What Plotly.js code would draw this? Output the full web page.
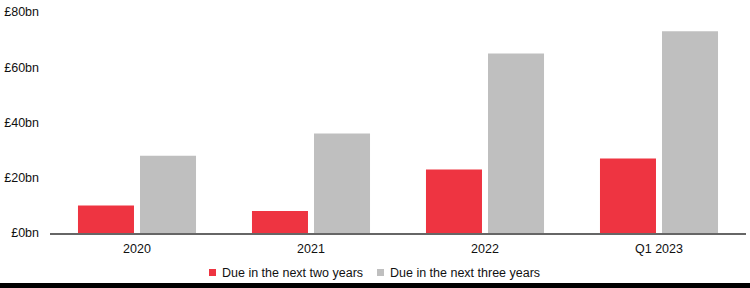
<!DOCTYPE html>
<html>
<head>
<meta charset="utf-8">
<script src="https://cdn.plot.ly/plotly-3.0.1.min.js"></script>
<style>
html,body{margin:0;padding:0;background:#fff;}
#wrap{position:relative;width:750px;height:288px;overflow:hidden;}
#chart{width:750px;height:288px;}
#bar{position:absolute;left:0;top:283px;width:750px;height:5px;background:#000;}
</style>
</head>
<body>
<div id="wrap"><div id="chart"></div><div id="bar"></div></div>
<script>
const categories = ["2020", "2021", "2022", "Q1 2023"];
const seriesNames = ["Due in the next two years", "Due in the next three years"];
const dueTwoYears = [10, 8, 23, 27];
const dueThreeYears = [28, 36, 65, 73];
const yTickVals = [0, 20, 40, 60, 80];
const yTickText = ["£0bn", "£20bn", "£40bn", "£60bn", "£80bn"];
const colors = ["#EE3441", "#BFBFBF"];

const W = 750, H = 288;
const M = {l: 50, r: 4, t: 12, b: 55};
const pw = W - M.l - M.r, ph = H - M.t - M.b;
const px2x = p => (p - M.l) / pw;
const py2y = p => (H - M.b - p) / ph;

const font = {family: "Liberation Sans, Arial, sans-serif", size: 12.5, color: "#111"};

const traces = [
  {type: "bar", x: categories, y: dueTwoYears, name: seriesNames[0], marker: {color: colors[0]}, showlegend: false, hoverinfo: "none"},
  {type: "bar", x: categories, y: dueThreeYears, name: seriesNames[1], marker: {color: colors[1]}, showlegend: false, hoverinfo: "none"}
];

// manual legend
const legendItems = [{sq: 209, tx: 220}, {sq: 377, tx: 387.5}];
const shapes = [];
const annotations = [];
legendItems.forEach((it, i) => {
  shapes.push({type: "rect", xref: "paper", yref: "paper",
    x0: px2x(it.sq), x1: px2x(it.sq + 7), y0: py2y(276), y1: py2y(269),
    fillcolor: colors[i], line: {width: 0}});
  annotations.push({xref: "paper", yref: "paper", x: px2x(it.tx), y: py2y(272.5),
    xanchor: "left", yanchor: "middle", showarrow: false, text: seriesNames[i], font: font});
});

const layout = {
  width: W, height: H,
  margin: M,
  paper_bgcolor: "#fff", plot_bgcolor: "#fff",
  font: font,
  barmode: "group",
  bargap: 0.287,
  bargroupgap: 0.097,
  showlegend: false,
  xaxis: {type: "category", showline: true, linecolor: "#666", linewidth: 1.5, ticks: "", showgrid: false, zeroline: false, ticklabelstandoff: 3, fixedrange: true},
  yaxis: {range: [0, 80], tickvals: yTickVals, ticktext: yTickText, showgrid: false, zeroline: false, showline: false, ticks: "", ticklabelstandoff: 10, fixedrange: true},
  shapes: shapes,
  annotations: annotations
};

Plotly.newPlot("chart", traces, layout, {displayModeBar: false, staticPlot: true});
</script>
</body>
</html>
